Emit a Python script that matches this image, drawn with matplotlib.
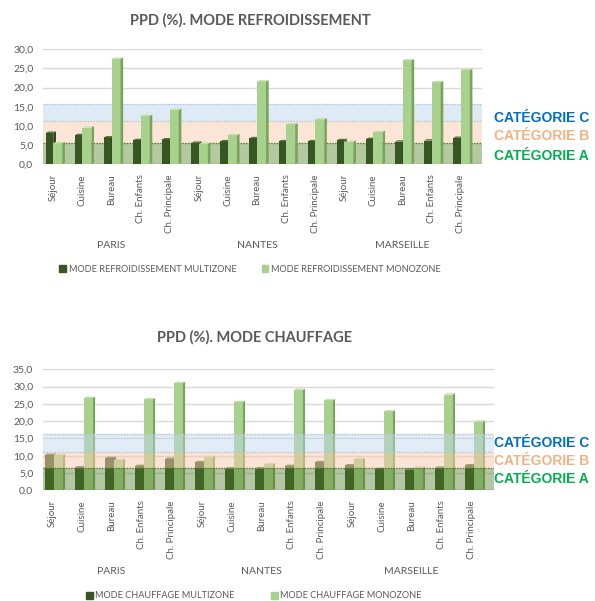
import matplotlib
matplotlib.use("Agg")
import matplotlib.pyplot as plt
import matplotlib.transforms as mtransforms
from matplotlib.patches import Patch
import numpy as np

plt.rcParams['font.family'] = ['Lato', 'DejaVu Sans']

# --- data ---------------------------------------------------------------
rooms = ["Séjour", "Cuisine", "Bureau", "Ch. Enfants", "Ch. Principale"]
cities = ["PARIS", "NANTES", "MARSEILLE"]
labels = rooms * 3

cool_multi = [8.2, 7.6, 7.0, 6.3, 6.5,
              5.6, 6.0, 6.8, 6.0, 6.0,
              6.3, 6.6, 5.9, 6.2, 6.9]
cool_mono = [5.5, 9.6, 27.5, 12.6, 14.2,
             5.3, 7.6, 21.6, 10.4, 11.7,
             5.9, 8.4, 27.1, 21.4, 24.6]

heat_multi = [10.2, 6.6, 9.3, 7.0, 9.1,
              8.1, 6.3, 6.3, 7.0, 8.1,
              7.2, 6.1, 6.0, 6.5, 7.2]
heat_mono = [10.1, 26.7, 8.7, 26.3, 31.0,
             9.6, 25.5, 7.5, 29.0, 26.0,
             9.0, 22.8, 6.5, 27.7, 19.8]

# comfort category bands as they appear on the back wall (low, high)
cool_bands = {"A": (0, 5.5), "B": (5.5, 11.4), "C": (11.4, 15.7)}
heat_bands = {"A": (0, 6.4), "B": (6.4, 11.0), "C": (11.0, 16.3)}

DARK = "#375623"
DARK_SIDE = "#26401a"
DARK_TOP = "#4E7535"
LIGHT = "#A9D18E"
LIGHT_SIDE = "#79A35C"
LIGHT_TOP = "#C3E0AE"
GREY = "#595959"

W, H = 595, 601
fig = plt.figure(figsize=(W / 100, H / 100), dpi=100)


def px_axes(left, right, top, bottom):
    return fig.add_axes([left / W, 1 - bottom / H, (right - left) / W, (bottom - top) / H])


def bar3d(ax, left, vals, width, depth, dh, front, side, top, z):
    # front face, side face and top cap of a simple pseudo-3D bar
    ax.bar(left, vals, width=width, align='edge', color=front, zorder=z)
    for x0, v in zip(left, vals):
        ax.fill([x0 + width, x0 + width + depth, x0 + width + depth, x0 + width],
                [0, dh, v + dh, v], color=side, lw=0, zorder=z)
        ax.fill([x0, x0 + depth, x0 + width + depth, x0 + width],
                [v, v + dh, v + dh, v], color=top, lw=0, zorder=z)


def draw_panel(ax, multi, mono, bands, ymax, xlim, widths, overlay, label_shift):
    x = np.arange(len(multi))
    wm, wo, ws = widths
    dh = ymax * 0.012
    ax.set_xlim(*xlim)
    ax.set_ylim(0, ymax)

    bar3d(ax, x - wm, multi, wm, ws, dh, DARK, DARK_SIDE, DARK_TOP, 2)
    bar3d(ax, x, mono, wo, ws, dh, LIGHT, LIGHT_SIDE, LIGHT_TOP, 2.2)

    if overlay:
        z = 3
        specs = [("A", "#4E7A26", 0.42), ("B", "#F8CBAD", 0.5), ("C", "#BDD7EE", 0.45)]
    else:
        z = 1
        specs = [("A", "#B5C9A0", 1), ("B", "#FBE5D6", 1), ("C", "#DEEBF7", 1)]
    for key, col, a in specs:
        lo, hi = bands[key]
        ax.axhspan(lo, hi, color=col, alpha=a, lw=0, zorder=z)
    lo, hi = bands["A"]
    for yv in (lo + 0.05, hi):
        ax.axhline(yv, color="#5C7F33", lw=1, ls=(0, (1, 1)), zorder=z + 0.1)
    lo, hi = bands["C"]
    for yv in (lo, hi):
        ax.axhline(yv, color="#B4C4D4", lw=1, ls=(0, (1, 1)), zorder=z + 0.1)

    ax.set_yticks(np.arange(0, ymax + 1, 5))
    ax.set_yticklabels([f"{v:.1f}".replace(".", ",") for v in np.arange(0, ymax + 1, 5)],
                       fontsize=7.5, color=GREY)
    ax.yaxis.grid(True, color="#D9D9D9", lw=1, zorder=0)
    ax.set_axisbelow(True)
    ax.set_xticks(x - label_shift)
    ax.set_xticklabels(labels, rotation=90, fontsize=7, color=GREY, va='top')
    ax.tick_params(length=0)
    ax.tick_params(axis='x', pad=7)
    ax.tick_params(axis='y', pad=7)
    for s in ax.spines.values():
        s.set_visible(False)


def cat_labels(y_px):
    cols = {"C": "#0070C0", "B": "#F4B183", "A": "#00B050"}
    for (key, col), y in zip(cols.items(), y_px):
        fig.text(494 / W, 1 - y / H, f"CATÉGORIE {key}", color=col, fontsize=10,
                 fontweight='bold', family='Liberation Sans', va='center', ha='left')


def city_labels(ax, y_frac, shift):
    trans = mtransforms.blended_transform_factory(ax.transData, ax.transAxes)
    for k, name in enumerate(cities):
        ax.text(5 * k + 2 - shift, y_frac, name, transform=trans, ha='center',
                va='center', fontsize=7.5, color=GREY)


def legend(handles, center_px, colsp):
    fig.legend(handles=handles, loc='center',
               bbox_to_anchor=(center_px[0] / W, 1 - center_px[1] / H), ncol=2,
               frameon=False, fontsize=6.6, labelcolor=GREY, handlelength=0.7,
               handleheight=0.7, handletextpad=0.3, columnspacing=colsp)


# --- top panel: cooling --------------------------------------------------
ax1 = px_axes(43, 482, 49.3, 164.3)
draw_panel(ax1, cool_multi, cool_mono, cool_bands, 30, (-0.354, 14.73),
           (0.26, 0.31, 0.09), False, 0.0)
fig.text(250 / W, 1 - 20 / H, "PPD (%). MODE REFROIDISSEMENT", ha='center', va='center',
         fontsize=10.5, fontweight='bold', color=GREY)
city_labels(ax1, (164.3 - 245) / 115, 0.0)
cat_labels([118, 136, 156])
legend([Patch(color=DARK, label="MODE REFROIDISSEMENT MULTIZONE"),
        Patch(color=LIGHT, label="MODE REFROIDISSEMENT MONOZONE")], (250, 269), 2.8)

# --- bottom panel: heating ------------------------------------------------
ax2 = px_axes(43, 494, 369.3, 490.3)
draw_panel(ax2, heat_multi, heat_mono, heat_bands, 35, (-0.367, 14.67),
           (0.30, 0.30, 0.07), True, 0.07)
fig.text(255 / W, 1 - 337 / H, "PPD (%). MODE CHAUFFAGE", ha='center', va='center',
         fontsize=10.5, fontweight='bold', color=GREY)
city_labels(ax2, (490.3 - 572) / 121, 0.1)
cat_labels([443, 461, 479])
legend([Patch(color=DARK, label="MODE CHAUFFAGE MULTIZONE"),
        Patch(color=LIGHT, label="MODE CHAUFFAGE MONOZONE")], (254, 596), 4.0)

fig.savefig("out.png", dpi=100)
